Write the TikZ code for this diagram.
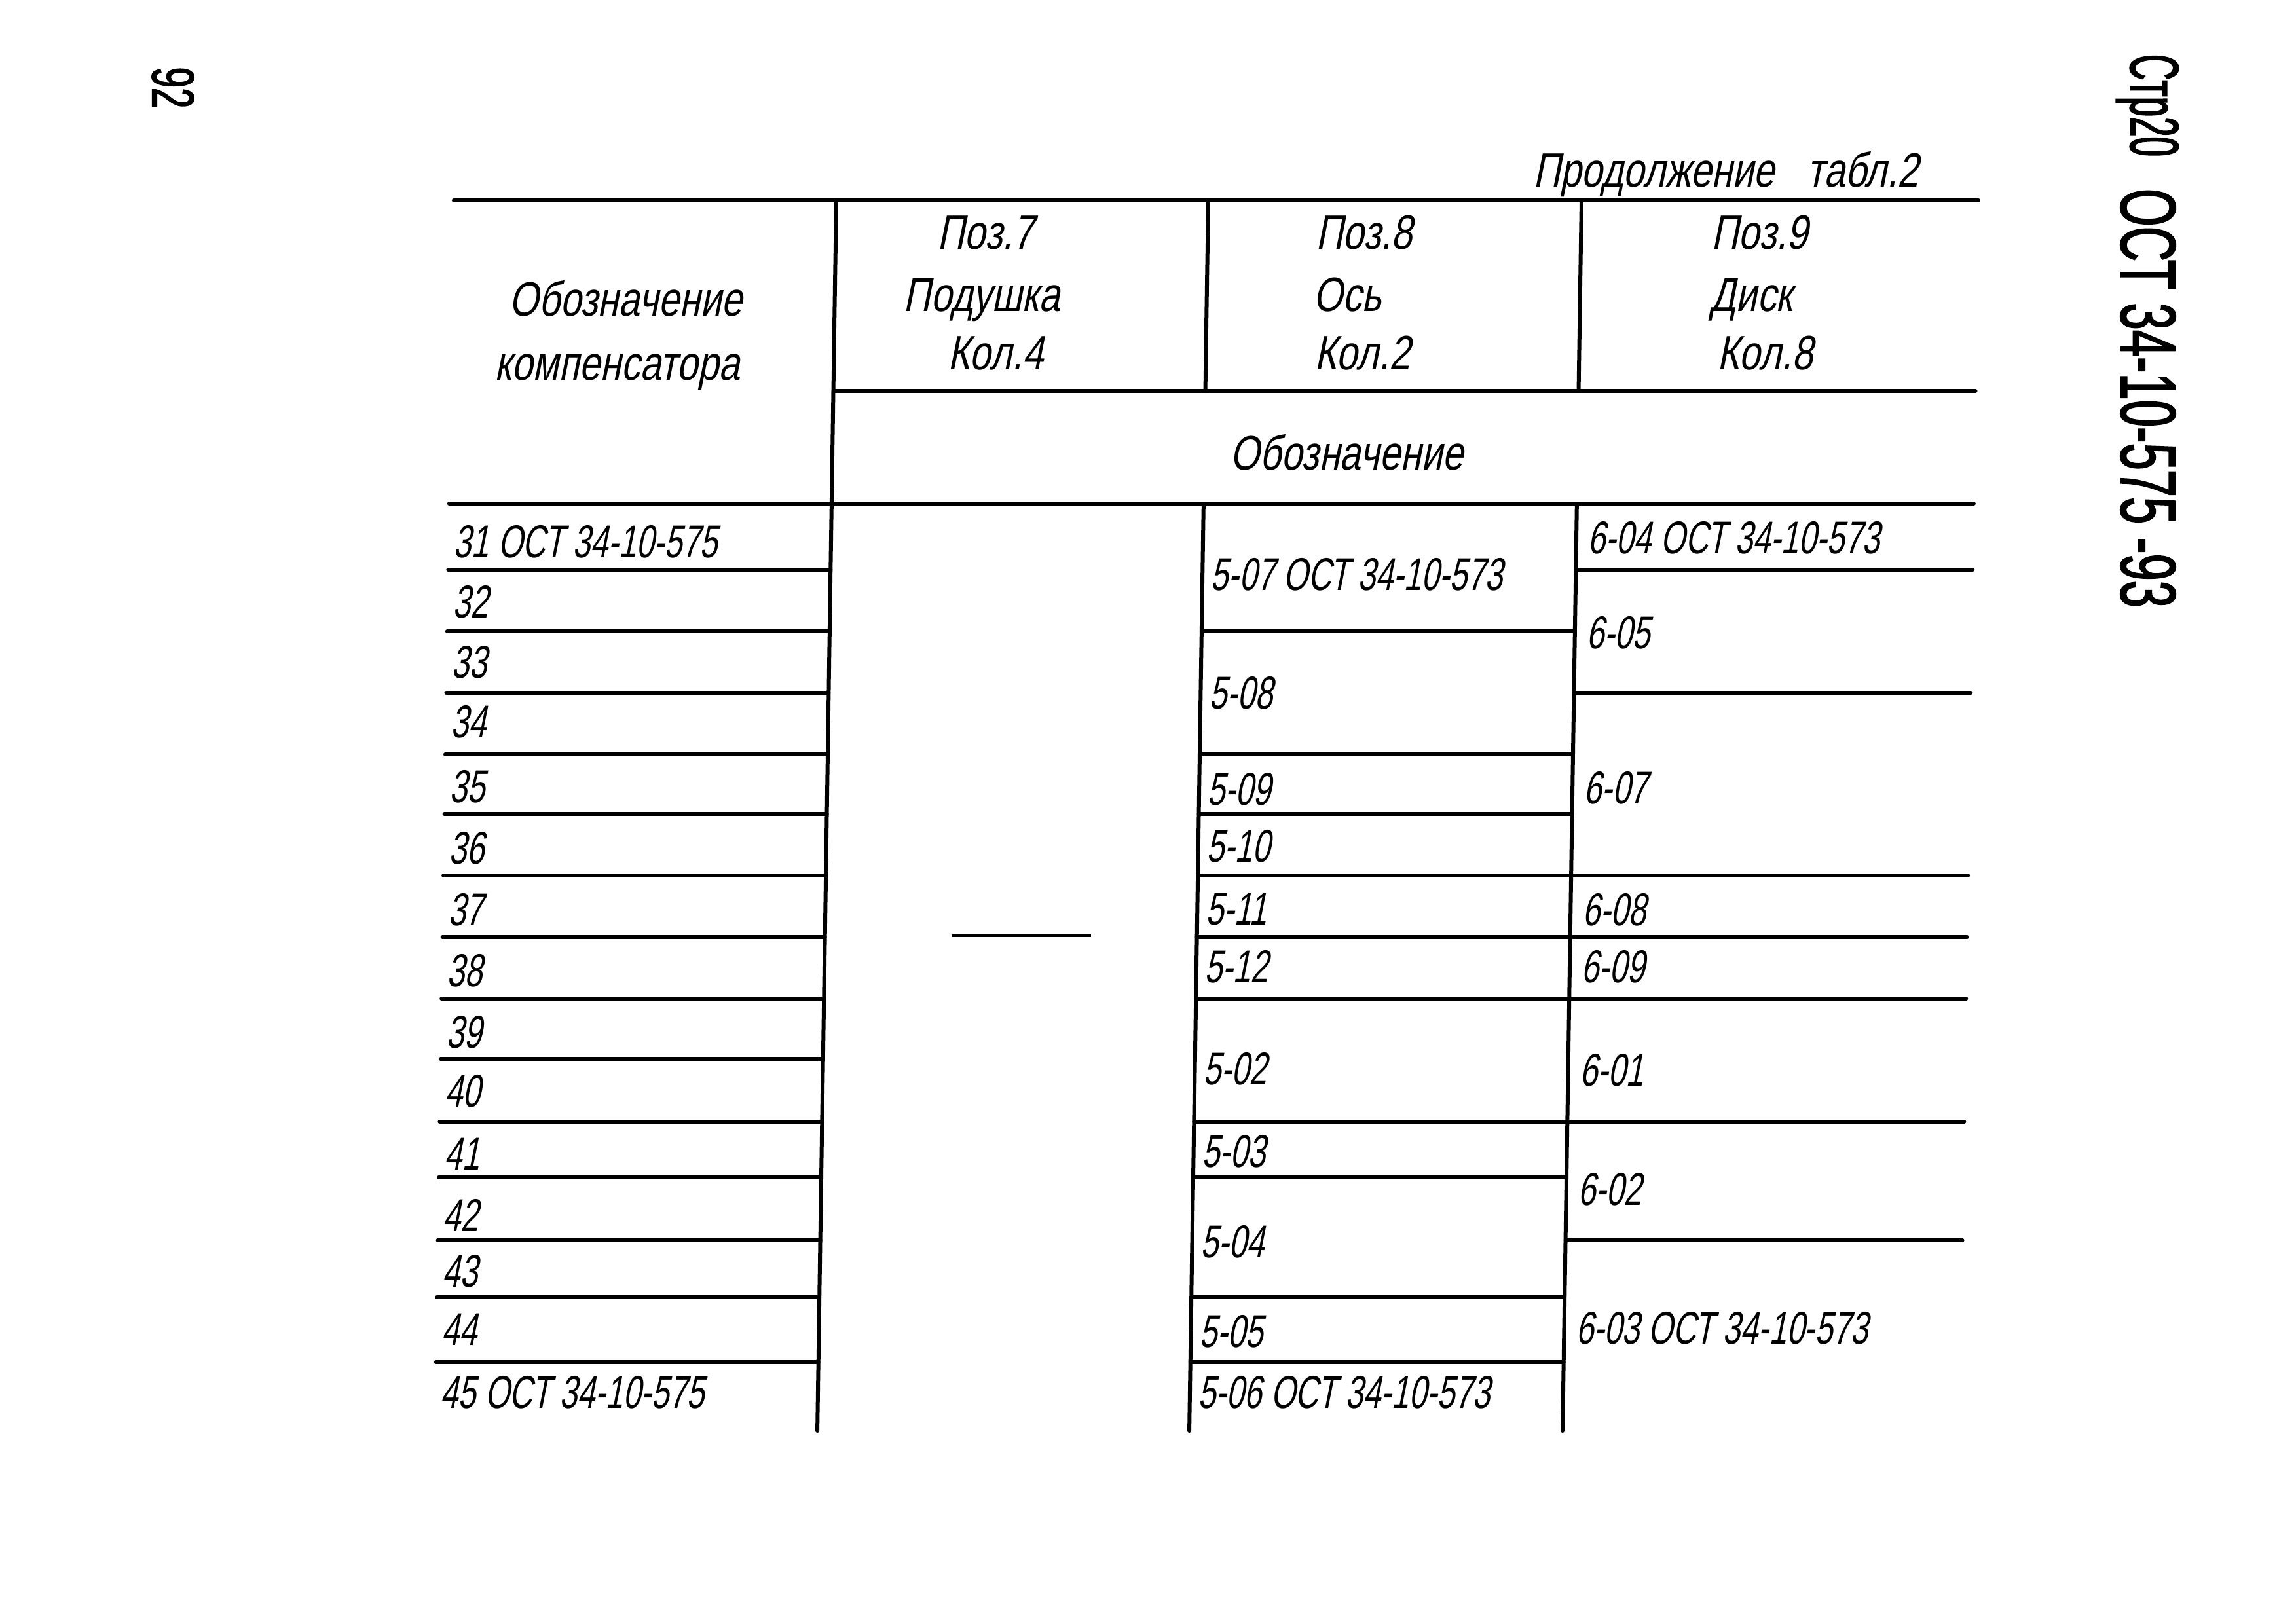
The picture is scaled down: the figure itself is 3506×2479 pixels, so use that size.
\documentclass[tikz,border=0pt]{standalone}
\usepackage{fontspec}
\newfontfamily\gostdata{Liberation Sans}[FakeSlant=0.2,FakeStretch=0.69]
\newfontfamily\gosthead{Liberation Sans}[FakeSlant=0.2,FakeStretch=0.78]
\newfontfamily\gostside{Liberation Sans}[FakeStretch=0.62,FakeBold=1.5]
\newfontfamily\gostsheet{Liberation Sans}[FakeStretch=0.52,FakeBold=1.5]
\usetikzlibrary{positioning}
\tikzset{rule/.style={line width=0.6mm, line cap=round}, thinrule/.style={line width=0.4mm},
  data/.style={anchor=west, inner sep=0pt, font=\gostdata\fontsize{20}{24}\selectfont},
  hdr/.style={anchor=base, inner sep=0pt, font=\gosthead\fontsize{21}{25}\selectfont},
  sidemark/.style={rotate=-90, inner sep=0pt, font=\gostside\fontsize{34}{40}\selectfont}}

\begin{document}
\begin{tikzpicture}[x=0.1mm,y=-0.1mm]
    \useasboundingbox (0,0) rectangle (3506,2479);
    % page marks
    \node[sidemark, font=\gostside\fontsize{26}{30}\selectfont] (pagenum) at (264,134) {92};
    \node[sidemark, font=\gostsheet\fontsize{30}{34}\selectfont] (sheet) at (3279,161) {Стр20};
    \node[sidemark] (standard) at (3280,608) {ОСТ 34-10-575 -93};
    \node[hdr, anchor=base east] (cont) at (2930,285) {Продолжение\hspace{5mm}табл.2};

    \begin{scope}[shift={(4.7,0)}, xslant=0.0154]
    % grid
    \draw[rule] (693,306) -- (3021,306);
    \draw[rule] (1277,597) -- (3021,597);
    \draw[rule] (693,769) -- (3021,769);
    \draw[rule] (1277,306) -- (1277,2185);
    \draw[rule] (1845,306) -- (1845,597) (1845,769) -- (1845,2185);
    \draw[rule] (2415,306) -- (2415,597) (2415,769) -- (2415,2185);
    \foreach \y in {870,964,1058,1152,1243,1337,1431,1525,1617,1713,1798,1894,1981,2080}
        \draw[rule] (693,\y) -- (1277,\y);
    \foreach \y in {964,1152,1243,1337,1431,1525,1713,1798,1981,2080}
        \draw[rule] (1845,\y) -- (2415,\y);
    \foreach \y in {870,1058,1337,1431,1525,1713,1894}
        \draw[rule] (2415,\y) -- (3021,\y);

    % header
    \node[hdr] (desig) at (958,482) {Обозначение};
    \node[hdr] (comp) at (947,580) {компенсатора};
    \node[hdr] (pos7) at (1506,380) {Поз.7};
    \node[hdr] (name7) at (1502,475) {Подушка};
    \node[hdr] (qty7) at (1524,564) {Кол.4};
    \node[hdr] (pos8) at (2084,380) {Поз.8};
    \node[hdr] (name8) at (2060,475) {Ось};
    \node[hdr] (qty8) at (2084,564) {Кол.2};
    \node[hdr] (pos9) at (2688,380) {Поз.9};
    \node[hdr] (name9) at (2677,475) {Диск};
    \node[hdr] (qty9) at (2699,564) {Кол.8};
    \node[hdr] (desigall) at (2063,717) {Обозначение};

    % compensators
    \node[data] (r31) at (700,827) {31 ОСТ 34-10-575};
    \foreach \n/\y in {32/919,33/1011,34/1102,35/1201,36/1295,37/1389,38/1482,39/1576,40/1666,41/1762,42/1856,43/1941,44/2030}
        \node[data] (r\n) at (700,\y) {\n};
    \node[data] (r45) at (700,2126) {45 ОСТ 34-10-575};

    % pos. 7
    \draw[thinrule] (1470,1429) -- (1683,1429);

    % pos. 8
    \foreach \t/\y [count=\i] in {5-07 ОСТ 34-10-573/877,5-08/1058,5-09/1205,5-10/1292,5-11/1389,5-12/1476,5-02/1632,5-03/1758,5-04/1896,5-05/2033,5-06 ОСТ 34-10-573/2126}
        \node[data] (ax\i) at (1857,\y) {\t};

    % pos. 9
    \foreach \t/\y [count=\i] in {6-04 ОСТ 34-10-573/821,6-05/966,6-07/1203,6-08/1389,6-09/1476,6-01/1634,6-02/1816,6-03 ОСТ 34-10-573/2028}
        \node[data] (disk\i) at (2432,\y) {\t};
    \end{scope}
\end{tikzpicture}
\end{document}
